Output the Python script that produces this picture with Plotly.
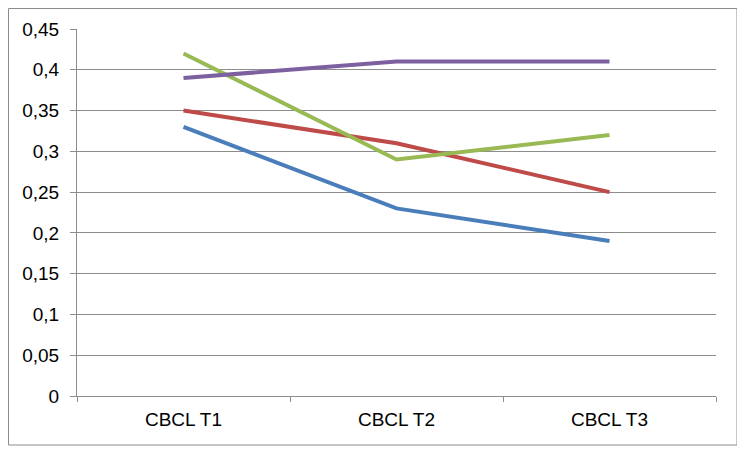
import plotly.graph_objects as go

categories = ["CBCL T1", "CBCL T2", "CBCL T3"]
series_blue = [0.33, 0.23, 0.19]
series_red = [0.35, 0.31, 0.25]
series_green = [0.42, 0.29, 0.32]
series_purple = [0.39, 0.41, 0.41]

series = [
    ("Serie 1", series_blue, "#4A7EBB"),
    ("Serie 2", series_red, "#BE4B48"),
    ("Serie 3", series_green, "#98B954"),
    ("Serie 4", series_purple, "#7D60A0"),
]

fig = go.Figure()
for name, vals, col in series:
    fig.add_trace(go.Scatter(x=categories, y=vals, mode="lines", name=name,
                             line=dict(color=col, width=4)))

# page has an 8px body margin; figure is sized to fill the rest of the window
W, H = 737, 444
L, R, T, B = 69, 29, 21, 56
pw, ph = W - L - R, H - T - B
plot_bottom = T + ph

fig.update_layout(
    width=W, height=H,
    margin=dict(l=L, r=R, t=T, b=B),
    plot_bgcolor="white", paper_bgcolor="white",
    showlegend=False,
    separators=", ",
    font=dict(family="Liberation Sans, Arial, sans-serif", size=19, color="#000000"),
    xaxis=dict(
        type="category",
        tickson="boundaries",
        ticks="outside", ticklen=5, tickcolor="#8C8C8C",
        showline=True, linecolor="#8C8C8C", linewidth=1,
        showgrid=False,
        range=[-0.5, 2.5],
        ticklabelstandoff=6,
    ),
    yaxis=dict(
        range=[0, 0.45], dtick=0.05,
        ticks="outside", ticklen=6, tickcolor="#8C8C8C",
        showline=True, linecolor="#8C8C8C", linewidth=1,
        showgrid=True, gridcolor="#8C8C8C", gridwidth=1,
        zeroline=False,
        ticklabelstandoff=7,
    ),
    shapes=[dict(
        type="rect", xref="paper", yref="paper",
        x0=(0.5 - L) / pw, x1=(W - 8 - L) / pw,
        y0=(plot_bottom - (445 - 8)) / ph, y1=(plot_bottom - 0.5) / ph,
        line=dict(color="#8C8C8C", width=1),
        fillcolor="rgba(0,0,0,0)", layer="below",
    )],
)

fig.write_html("out.html")
